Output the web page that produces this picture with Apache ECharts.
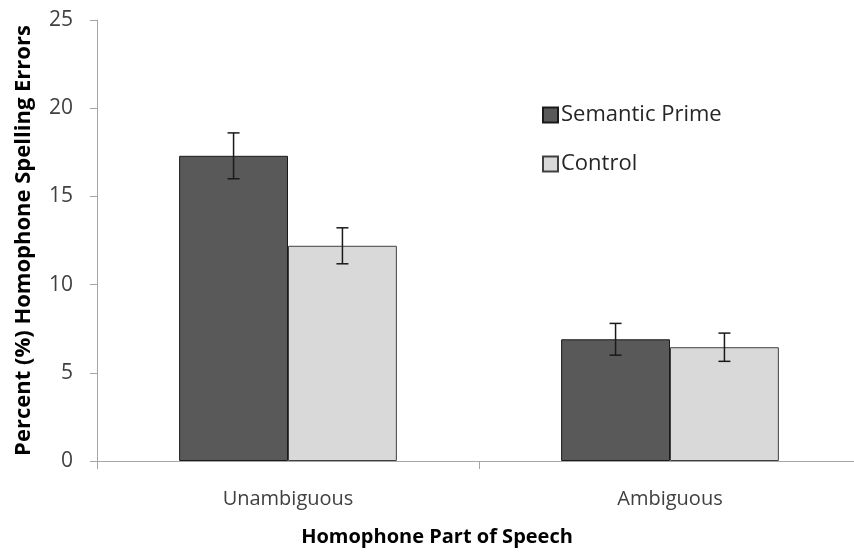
<!DOCTYPE html>
<html><head><meta charset="utf-8">
<script src="https://cdn.jsdelivr.net/npm/echarts@6/dist/echarts.min.js"></script>
<style>html,body{margin:0;padding:0;background:#fff}#c{width:854px;height:554px}</style>
</head><body><div id="c"></div>
<script>
var categories = ['Unambiguous', 'Ambiguous'];
var seriesNames = ['Semantic Prime', 'Control'];
var semanticPrime = [17.3, 6.9];
var control = [12.2, 6.45];
var semanticPrimeErr = [1.3, 0.9];
var controlErr = [1.02, 0.8];
var yTicks = [0, 5, 10, 15, 20, 25];

var FONT = 'Open Sans';
var chart = echarts.init(document.getElementById('c'));
var gapFrac = 0.43;

function errSeries(vals, errs, idx) {
  return {
    type: 'custom',
    z: 10,
    data: vals.map(function (v, i) { return [i, v - errs[i], v + errs[i]]; }),
    renderItem: function (params, api) {
      var band = api.size([1, 0])[0];
      var bw = band * (1 - gapFrac) / 2;
      var off = (idx === 0 ? -1 : 1) * bw / 2;
      var lo = api.coord([api.value(0), api.value(1)]);
      var hi = api.coord([api.value(0), api.value(2)]);
      var x = lo[0] + off, cap = 6;
      var st = { stroke: '#1a1a1a', lineWidth: 1.5 };
      return { type: 'group', children: [
        { type: 'line', shape: { x1: x, y1: lo[1], x2: x, y2: hi[1] }, style: st },
        { type: 'line', shape: { x1: x - cap, y1: lo[1], x2: x + cap, y2: lo[1] }, style: st },
        { type: 'line', shape: { x1: x - cap, y1: hi[1], x2: x + cap, y2: hi[1] }, style: st }
      ]};
    },
    encode: { x: 0, y: [1, 2] },
    silent: true
  };
}

chart.setOption({
  animation: false,
  grid: { left: 97, top: 20, width: 764, height: 441, containLabel: false, outerBoundsMode: 'none' },
  legend: {
    orient: 'vertical', left: 537, top: 99, itemGap: 27,
    itemWidth: 15, itemHeight: 15, icon: 'rect',
    textStyle: { fontFamily: FONT, fontSize: 22, color: '#262626', padding: [0, 0, 0, -2] },
    data: seriesNames
  },
  xAxis: {
    type: 'category', data: categories,
    axisLine: { lineStyle: { color: '#a6a6a6', width: 1 } },
    axisTick: { show: true, length: 8, lineStyle: { color: '#a6a6a6' } },
    axisLabel: { fontFamily: FONT, fontSize: 20, color: '#404040', margin: 28 }
  },
  yAxis: {
    type: 'value', min: 0, max: 25, interval: 5,
    name: 'Percent (%) Homophone Spelling Errors', nameLocation: 'middle', nameGap: 62,
    nameTextStyle: { fontFamily: FONT, fontSize: 22, fontWeight: 'bold', color: '#000' },
    axisLine: { show: true, lineStyle: { color: '#a6a6a6', width: 1 } },
    axisTick: { show: true, length: 7, lineStyle: { color: '#a6a6a6' } },
    axisLabel: { fontFamily: FONT, fontSize: 21, color: '#404040', margin: 24 },
    splitLine: { show: false }
  },
  graphic: [{
    type: 'text', x: 437, y: 537,
    style: { text: 'Homophone Part of Speech', fontFamily: FONT, fontSize: 20, fontWeight: 'bold', fill: '#000', align: 'center', verticalAlign: 'middle' }
  }],
  series: [
    { name: seriesNames[0], type: 'bar', data: semanticPrime, barGap: '0%', barCategoryGap: '43%',
      itemStyle: { color: '#595959', borderColor: '#1a1a1a', borderWidth: 1 } },
    { name: seriesNames[1], type: 'bar', data: control, barGap: '0%', barCategoryGap: '43%',
      itemStyle: { color: '#d9d9d9', borderColor: '#404040', borderWidth: 1 } },
    errSeries(semanticPrime, semanticPrimeErr, 0),
    errSeries(control, controlErr, 1)
  ]
});
</script></body></html>
